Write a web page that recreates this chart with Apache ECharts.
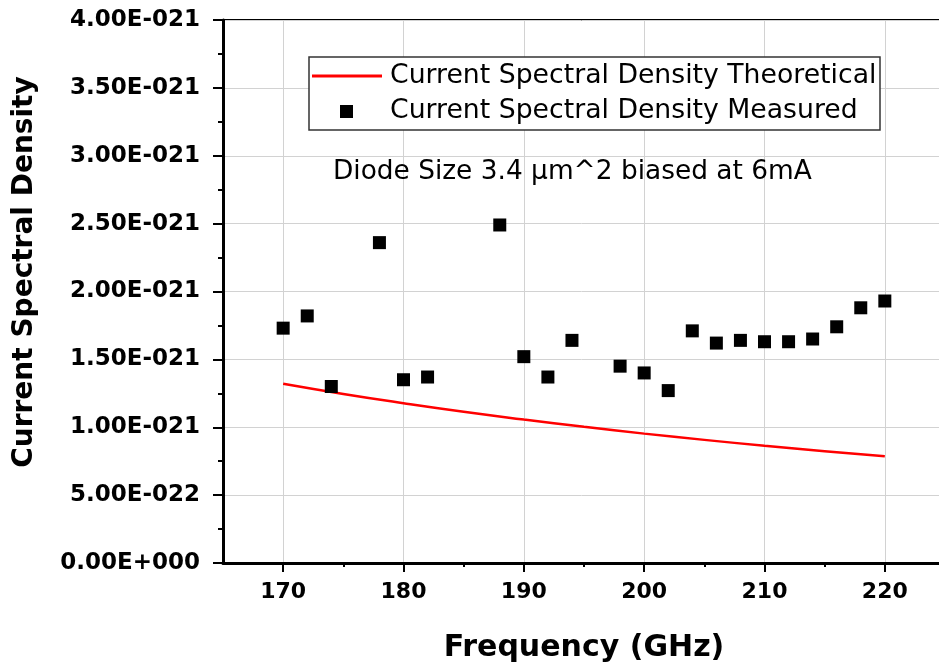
<!DOCTYPE html>
<html lang="en">
<head>
    <meta charset="UTF-8">
    <title>Current Spectral Density vs Frequency</title>
    <script src="https://cdn.jsdelivr.net/npm/echarts@6/dist/echarts.min.js"></script>
    <style>
        html, body { margin: 0; padding: 0; background: #fff; }
        #main { width: 939px; height: 666px; }
    </style>
</head>
<body>
    <div id="main"></div>
    <script>
        // measured points (GHz, A^2/Hz)
        var measFreq = [170, 172, 174, 178, 180, 182, 188, 190, 192, 194, 198, 200, 202, 204, 206, 208, 210, 212, 214, 216, 218, 220];
        var measValues = [1.73e-21, 1.82e-21, 1.30e-21, 2.36e-21, 1.35e-21, 1.37e-21, 2.49e-21, 1.52e-21, 1.37e-21, 1.64e-21, 1.45e-21,
            1.40e-21, 1.27e-21, 1.71e-21, 1.62e-21, 1.64e-21, 1.63e-21, 1.63e-21, 1.65e-21, 1.74e-21, 1.88e-21, 1.93e-21];

        // theoretical curve
        var theoFreq = [170, 175, 180, 185, 190, 195, 200, 205, 210, 215, 220];
        var theoValues = [1.32e-21, 1.245e-21, 1.177e-21, 1.114e-21, 1.057e-21, 1.003e-21, 0.953e-21, 0.907e-21, 0.864e-21, 0.824e-21, 0.787e-21];

        var xMajorTicks = [170, 180, 190, 200, 210, 220];
        var xMinorTicks = [175, 185, 195, 205, 215];

        // y axis is drawn in units of 1e-21 (echarts struggles with tiny intervals)
        var Y_UNIT = 1e-21;

        var FONT = '"DejaVu Sans", Arial, sans-serif';

        function zip(xs, ys) {
            return xs.map(function (x, i) { return [x, ys[i] / Y_UNIT]; });
        }

        function sciLabel(v) {
            v = Math.round(v * 1000) / 1000 * Y_UNIT;
            if (v === 0) return '0.00E+000';
            var s = v.toExponential(2).split('e');
            var e = parseInt(s[1], 10);
            var sign = e < 0 ? '-' : '+';
            var digits = String(Math.abs(e));
            while (digits.length < 3) digits = '0' + digits;
            return s[0] + 'E' + sign + digits;
        }

        var chart = echarts.init(document.getElementById('main'));

        var option = {
            animation: false,
            grid: {
                left: 223, top: 20, right: -6, bottom: 103,
                outerBoundsMode: 'none',
                show: true, borderColor: '#000', borderWidth: 2,
                backgroundColor: 'transparent'
            },
            xAxis: [{
                type: 'value',
                min: 165, max: 225, interval: 5,
                name: 'Frequency (GHz)',
                nameLocation: 'middle',
                nameGap: 70,
                nameTextStyle: { fontFamily: FONT, fontSize: 30, fontWeight: 'bold', color: '#000' },
                axisLine: { onZero: false, lineStyle: { color: '#000', width: 3 } },
                axisTick: { show: true, length: 9, customValues: xMajorTicks, lineStyle: { color: '#000', width: 2 } },
                axisLabel: { customValues: xMajorTicks, margin: 18, fontFamily: FONT, fontSize: 22, fontWeight: 'bold', color: '#000' },
                splitLine: { show: true, lineStyle: { color: '#d2d2d2', width: 1 } }
            }, {
                type: 'value',
                position: 'bottom',
                min: 165, max: 225, interval: 5,
                axisLine: { show: false },
                axisTick: { show: true, length: 4, customValues: xMinorTicks, lineStyle: { color: '#000', width: 2 } },
                axisLabel: { show: false },
                splitLine: { show: false }
            }],
            yAxis: {
                type: 'value',
                min: 0, max: 4, interval: 0.5,
                axisLine: { onZero: false, lineStyle: { color: '#000', width: 3 } },
                axisTick: { show: true, length: 10, lineStyle: { color: '#000', width: 2 } },
                minorTick: { show: true, splitNumber: 2, length: 5, lineStyle: { color: '#000', width: 2 } },
                axisLabel: { margin: 23, fontFamily: FONT, fontSize: 23, fontWeight: 'bold', color: '#000', formatter: sciLabel },
                splitLine: { show: true, lineStyle: { color: '#d2d2d2', width: 1 } }
            },
            series: [{
                name: 'Current Spectral Density Theoretical',
                type: 'line',
                data: zip(theoFreq, theoValues),
                smooth: true,
                symbol: 'none',
                lineStyle: { color: '#ff0000', width: 2.5 },
                z: 3
            }, {
                name: 'Current Spectral Density Measured',
                type: 'scatter',
                data: zip(measFreq, measValues),
                symbol: 'rect',
                symbolSize: 13,
                itemStyle: { color: '#000', opacity: 1 },
                z: 4
            }],
            graphic: [{
                // y axis title, sits a bit above the plot centre like the original
                type: 'text',
                x: 25, y: 272,
                rotation: Math.PI / 2,
                style: { text: 'Current Spectral Density', font: 'bold 28px ' + FONT, fill: '#000', align: 'center', verticalAlign: 'middle' },
                z: 11
            }, {
                type: 'rect',
                shape: { x: 309, y: 57, width: 571, height: 73 },
                style: { fill: '#fff', stroke: '#333', lineWidth: 1.5 },
                z: 10
            }, {
                type: 'line',
                shape: { x1: 312, y1: 76, x2: 382, y2: 76 },
                style: { stroke: '#ff0000', lineWidth: 3 },
                z: 11
            }, {
                type: 'rect',
                shape: { x: 340, y: 105, width: 13, height: 13 },
                style: { fill: '#000' },
                z: 11
            }, {
                type: 'text',
                x: 390, y: 76,
                style: { text: 'Current Spectral Density Theoretical', font: '26.7px ' + FONT, fill: '#000', verticalAlign: 'middle' },
                z: 11
            }, {
                type: 'text',
                x: 390, y: 111,
                style: { text: 'Current Spectral Density Measured', font: '26.7px ' + FONT, fill: '#000', verticalAlign: 'middle' },
                z: 11
            }, {
                type: 'text',
                x: 333, y: 172,
                style: { text: 'Diode Size 3.4 \u03bcm^2 biased at 6mA', font: '26.4px ' + FONT, fill: '#000', verticalAlign: 'middle' },
                z: 11
            }]
        };

        chart.setOption(option);
    </script>
</body>
</html>
